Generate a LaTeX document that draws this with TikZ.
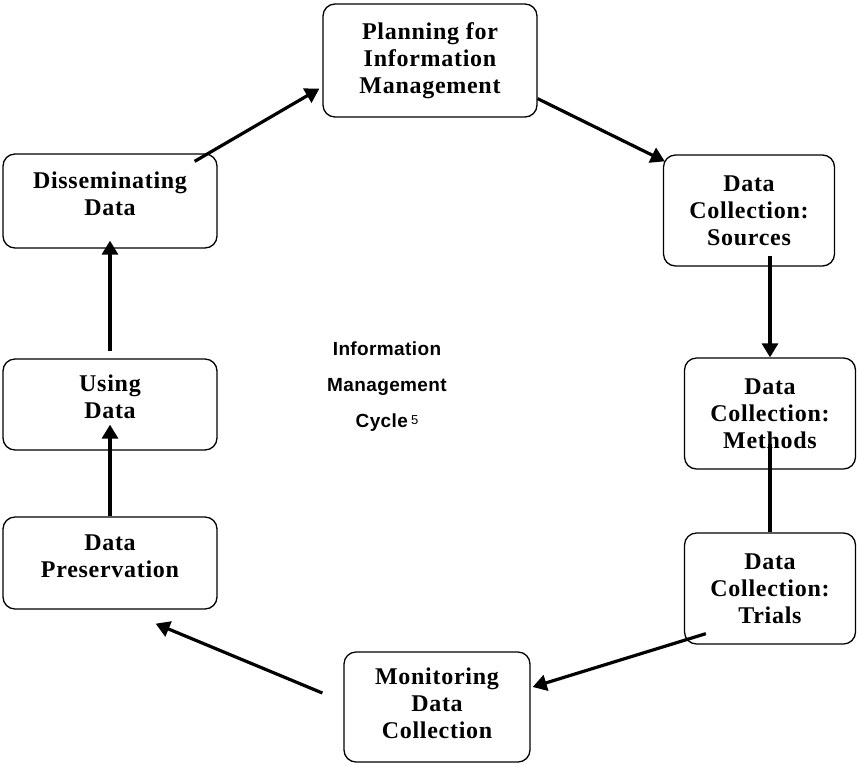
\documentclass[tikz,border=0pt]{standalone}
\usepackage{fontspec}
\setmainfont{Liberation Serif}
\newfontfamily\boxfont[LetterSpace=3]{Liberation Serif}
\newfontfamily\cyclefont[LetterSpace=2]{Liberation Sans}
\usetikzlibrary{arrows.meta,positioning}

\begin{document}
\begin{tikzpicture}[x=1pt, y=-1pt,
    stage/.style={draw, line width=1.3pt, rounded corners=12pt, align=center, inner sep=0pt,
        font=\boxfont\bfseries\fontsize{24}{27}\selectfont},
    wide/.style={minimum width=214pt},
    narrow/.style={minimum width=171pt, minimum height=111pt},
    flow/.style={line width=3.2pt, -{Triangle[length=14pt,width=16pt]}},
    link/.style={line width=3.2pt}
]
\useasboundingbox (0,0) rectangle (858,764);

% the eight stages, clockwise from the top
\node[stage, wide, minimum height=113pt] (plan) at (430,60.5) {Planning for\\Information\\Management};
\node[stage, narrow] (sources) at (749,210.5) {Data\\Collection:\\Sources};
\node[stage, narrow] (methods) at (770,413.5) {Data\\Collection:\\Methods};
\node[stage, narrow] (trials) at (770,588.5) {Data\\Collection:\\Trials};
\node[stage, minimum width=186pt, minimum height=110pt, text depth=7pt] (monitor) at (437,707) {Monitoring\\Data\\Collection};
\node[stage, wide, minimum height=92pt, text depth=14pt] (preserv) at (110,563) {Data\\Preservation};
\node[stage, wide, minimum height=91pt, text depth=16pt] (using) at (110,404.5) {Using\\Data};
\node[stage, wide, minimum height=94pt, text depth=14pt] (dissem) at (110,201) {Disseminating\\Data};

\node[font=\cyclefont\bfseries\fontsize{19}{36}\selectfont, align=center] (cycle) at (387,387)
    {Information\\Management\\Cycle\,\raisebox{3pt}{\fontsize{13}{13}\selectfont\mdseries 5}};

% connectors
\coordinate (mfrom) at ([xshift=-21pt,yshift=14pt]monitor.west);
\coordinate (pto) at ([xshift=-62pt,yshift=-14pt]preserv.south east);

\draw[flow] ([xshift=-23pt,yshift=-8pt]dissem.north east) -- ([xshift=-3pt,yshift=29pt]plan.south west);
\draw[flow] ([yshift=19pt]plan.south east) -- ([xshift=2pt,yshift=-7pt]sources.north west);
\draw[flow, shorten <=-11pt] (methods.north |- sources.south) -- (methods.north);
\draw[link, shorten <=-26pt] (methods.south) -- (trials.north);
\draw[flow] ([xshift=22pt,yshift=11pt]trials.south west) -- ([xshift=2pt,yshift=20pt]monitor.east);
\draw[flow] (mfrom) -- (pto);
\draw[flow, shorten >=-26pt] (preserv.north) -- (using.south);
\draw[flow, shorten <=7pt, shorten >=-8pt] (using.north) -- (dissem.south);

\end{tikzpicture}
\end{document}
